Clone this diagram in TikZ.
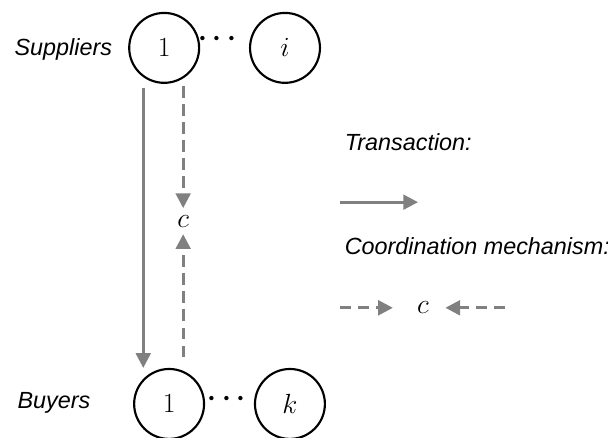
\documentclass[tikz,border=0pt]{standalone}
\usepackage{amsmath}
\usepackage{fontspec}
\usepackage{xcolor}
\usepackage{tikz}
\usetikzlibrary{arrows.meta,calc}
\newfontfamily\labelfont{Liberation Sans}

\begin{document}
\begin{tikzpicture}[
        lbl/.style={font=\labelfont\itshape\fontsize{17.5}{21}\selectfont},
        num/.style={circle, draw, line width=1.6pt, minimum size=1.84cm, inner sep=0pt, font=\fontsize{20.5}{24}\selectfont},
        mth/.style={inner sep=0.18cm, font=\fontsize{20.5}{24}\selectfont},
        trans/.style={draw=gray, line width=2.1pt, -{Triangle[width=11pt,length=11pt]}},
        coord/.style={trans, dash pattern=on 8.5pt off 5pt}]
                \useasboundingbox (0,0) rectangle (16,-11.526);

                \node[lbl, anchor=base west] (sup) at (0.26, -1.45) {Suppliers};
                \node[num] (s1) at (4.32, -1.26) {$1$};
                \node[mth, inner sep=0pt] (sdots) at (5.79, -1.02) {$\boldsymbol{\cdots}$};
                \node[num] (si) at (7.50, -1.26) {$i$};

                \node[lbl, anchor=base west] (buy) at (0.34, -10.74) {Buyers};
                \node[num] (b1) at (4.45, -10.63) {$1$};
                \node[mth, inner sep=0pt] (bdots) at (6.03, -10.5) {$\boldsymbol{\cdots}$};
                \node[num] (bk) at (7.63, -10.63) {$k$};

                \node[mth] (c) at (4.82, -5.82) {$c$};

                \draw[trans] ($(s1.south)+(-0.55,-0.1)$) coordinate (t0) -- (t0 |- b1.north);
                \draw[coord] ($(s1.south)+(0.5,-0.06)$) coordinate (d0) -- (d0 |- c.north);
                \draw[coord] ($(b1.north)+(0.37,0.29)$) coordinate (d1) -- (d1 |- c.south);

                \node[lbl, anchor=base west] (tr) at (8.95, -3.95) {Transaction:};
                \coordinate (ta) at (8.95, -5.32);
                \coordinate (tb) at (11.0, -5.32);
                \draw[trans] (ta) -- (tb);

                \node[lbl, anchor=base west] (cm) at (8.95, -6.71) {Coordination mechanism:};
                \node[mth] (lc) at (11.13, -8.1) {$c$};
                \coordinate (la) at (8.95, -8.1);
                \coordinate (lb) at (13.29, -8.1);
                \draw[coord, shorten >=0.45cm] (la) -- (lc.west);
                \draw[coord, shorten >=0.25cm] (lb) -- (lc.east);
            \end{tikzpicture}
\end{document}
